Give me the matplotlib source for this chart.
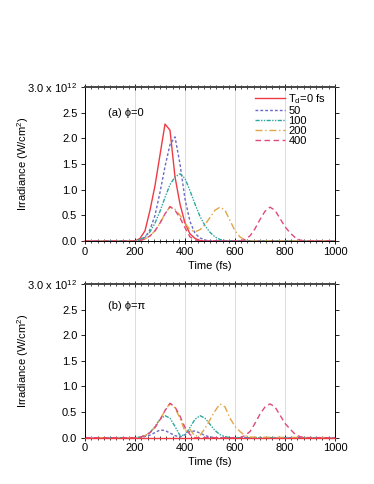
import matplotlib
matplotlib.use("Agg")
import matplotlib.pyplot as plt
from matplotlib.ticker import MultipleLocator

plt.rcParams['font.family'] = ['Liberation Sans', 'DejaVu Sans']
plt.rcParams['mathtext.default'] = 'regular'

# panel (a), phi = 0
red_a_t = [0, 200, 220, 240, 260, 280, 300, 320, 340, 360, 380, 400, 420, 440, 460, 480, 1000]
red_a = [0, 0, 0.05, 0.2, 0.6, 1.08, 1.68, 2.28, 2.16, 1.25, 0.72, 0.35, 0.14, 0.05, 0.01, 0, 0]

blue_a_t = [0, 200, 220, 240, 260, 280, 300, 320, 340, 360, 380, 400, 420, 440, 460, 480, 500, 1000]
blue_a = [0, 0, 0.02, 0.07, 0.22, 0.5, 0.95, 1.45, 1.88, 2.03, 1.5, 0.82, 0.38, 0.15, 0.06, 0.02, 0, 0]

teal_a_t = [0, 200, 220, 240, 260, 280, 300, 320, 340, 360, 380, 400, 420, 440, 460, 480, 500, 520, 540, 560, 580, 1000]
teal_a = [0, 0, 0.03, 0.08, 0.18, 0.35, 0.58, 0.85, 1.1, 1.25, 1.31, 1.22, 0.98, 0.72, 0.48, 0.3, 0.17, 0.08, 0.03, 0.01, 0, 0]

orange_a_t = [0, 200, 220, 240, 260, 280, 300, 320, 340, 360, 380, 400, 420, 440, 460, 480, 500, 520, 540, 560, 580, 600, 620, 640, 660, 1000]
orange_a = [0, 0, 0.01, 0.04, 0.1, 0.2, 0.35, 0.53, 0.67, 0.62, 0.5, 0.35, 0.22, 0.18, 0.22, 0.32, 0.46, 0.6, 0.66, 0.6, 0.4, 0.2, 0.08, 0.02, 0, 0]

pink_a_t = [0, 200, 220, 240, 260, 280, 300, 320, 340, 360, 380, 400, 420, 440, 460, 620, 640, 660, 680, 700, 720, 740, 760, 780, 800, 820, 840, 860, 880, 1000]
pink_a = [0, 0, 0.01, 0.04, 0.1, 0.2, 0.35, 0.53, 0.67, 0.6, 0.45, 0.26, 0.08, 0.02, 0, 0, 0.03, 0.1, 0.24, 0.42, 0.58, 0.66, 0.6, 0.44, 0.28, 0.16, 0.07, 0.02, 0, 0]

# panel (b), phi = pi
red_b_t = [0, 1000]
red_b = [0, 0]

blue_b_t = [0, 200, 220, 240, 260, 280, 300, 320, 340, 360, 380, 400, 420, 440, 460, 480, 500, 520, 1000]
blue_b = [0, 0, 0.005, 0.02, 0.05, 0.1, 0.15, 0.14, 0.09, 0.04, 0.01, 0.06, 0.12, 0.13, 0.09, 0.04, 0.015, 0, 0]

teal_b_t = [0, 200, 220, 240, 260, 280, 300, 320, 340, 360, 380, 400, 420, 440, 460, 480, 500, 520, 540, 560, 580, 1000]
teal_b = [0, 0, 0.01, 0.04, 0.1, 0.22, 0.36, 0.43, 0.38, 0.22, 0.04, 0.05, 0.2, 0.36, 0.43, 0.38, 0.26, 0.14, 0.06, 0.02, 0, 0]

orange_b_t = [0, 200, 220, 240, 260, 280, 300, 320, 340, 360, 380, 400, 420, 440, 460, 480, 500, 520, 540, 560, 580, 600, 620, 640, 660, 1000]
orange_b = [0, 0, 0.01, 0.04, 0.1, 0.2, 0.35, 0.53, 0.67, 0.58, 0.38, 0.12, 0.16, 0.03, 0.05, 0.18, 0.35, 0.52, 0.66, 0.6, 0.38, 0.22, 0.12, 0.04, 0.01, 0]

pink_b_t = [0, 200, 220, 240, 260, 280, 300, 320, 340, 360, 380, 400, 420, 440, 620, 640, 660, 680, 700, 720, 740, 760, 780, 800, 820, 840, 860, 880, 1000]
pink_b = [0, 0, 0.01, 0.04, 0.1, 0.2, 0.35, 0.53, 0.67, 0.6, 0.42, 0.2, 0.06, 0, 0, 0.04, 0.12, 0.28, 0.46, 0.6, 0.66, 0.6, 0.44, 0.28, 0.17, 0.07, 0.02, 0, 0]

labels = ['T$_d$=0 fs', '50', '100', '200', '400']
colors = ['#ee3a44', '#6a6ac8', '#2aa8a0', '#e0a648', '#e04a7c']
styles = ['-', (0, (2, 1.5)), (0, (3, 1, 1, 1, 1, 1)), (0, (5, 2, 1, 2)), (0, (4, 2.5))]

yticklabels = ['0.0', '0.5', '1.0', '1.5', '2.0', '2.5', '3.0 x 10$^{12}$']

fig = plt.figure(figsize=(3.74, 4.84), dpi=100)
ax_a = fig.add_axes([0.2273, 0.502, 0.6684, 0.318])
ax_b = fig.add_axes([0.2273, 0.0957, 0.6684, 0.3175])

panels = [
    (ax_a, [(red_a_t, red_a), (blue_a_t, blue_a), (teal_a_t, teal_a), (orange_a_t, orange_a), (pink_a_t, pink_a)], '(a) ϕ=0', 2.5, 2),
    (ax_b, [(red_b_t, red_b), (blue_b_t, blue_b), (teal_b_t, teal_b), (orange_b_t, orange_b), (pink_b_t, pink_b)], '(b) ϕ=π', 2.57, 3),
]

fs = 8
for ax, series, tag, ytag, red_z in panels:
    for x in [200, 400, 600, 800]:
        ax.axvline(x, color='#d4d4ea', lw=0.6, zorder=0)
    for i, ((t, v), lab, c, ls) in enumerate(zip(series, labels, colors, styles)):
        z = red_z if i == 0 else 2
        ax.plot(t, v, color=c, ls=ls, lw=1.0, label=lab, clip_on=False, zorder=z)
    ax.set_xlim(0, 1000)
    ax.set_ylim(0, 3.0)
    ax.xaxis.set_major_locator(MultipleLocator(200))
    ax.xaxis.set_minor_locator(MultipleLocator(25))
    ax.set_yticks([0, 0.5, 1.0, 1.5, 2.0, 2.5, 3.0])
    ax.set_yticklabels(yticklabels)
    ax.tick_params(axis='y', which='major', direction='out', length=3, width=0.6,
                   labelsize=fs, pad=2.5, right=True)
    ax.tick_params(axis='x', which='major', direction='inout', length=4, width=0.6,
                   labelsize=fs, pad=2, top=True)
    ax.tick_params(axis='x', which='minor', direction='inout', length=3, width=0.5, top=True)
    for s in ['left', 'right', 'bottom']:
        ax.spines[s].set_linewidth(0.7)
    ax.spines['top'].set_linewidth(1.4)
    ax.spines['top'].set_color('#444444')
    ax.set_xlabel('Time (fs)', fontsize=fs, labelpad=3)
    ax.set_ylabel('Irradiance (W/cm$^2$)', fontsize=fs)
    ax.yaxis.set_label_coords(-0.215, 0.5)
    ax.text(92, ytag, tag, fontsize=fs, va='center', ha='left')

ax_a.legend(loc='upper left', bbox_to_anchor=(0.68, 0.97), frameon=False, fontsize=fs,
            handlelength=2.7, handletextpad=0.3, labelspacing=0.0, borderpad=0,
            borderaxespad=0)

fig.savefig('out.png', dpi=100)
